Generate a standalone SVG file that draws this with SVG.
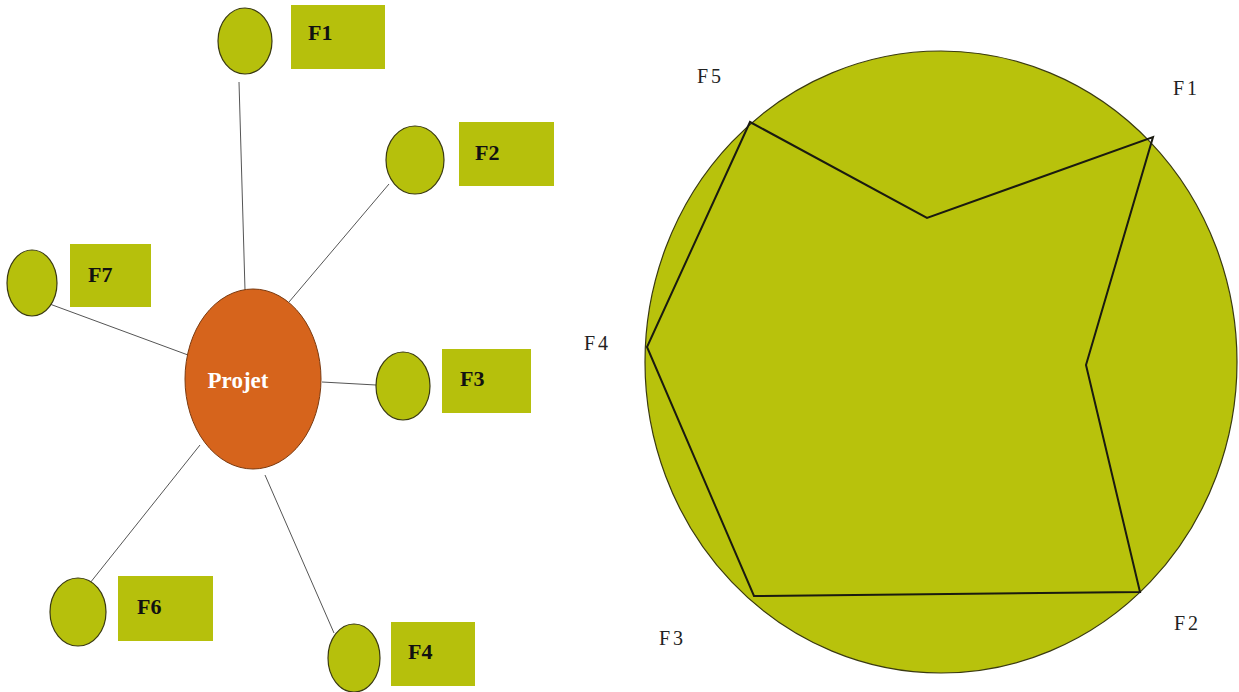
<svg xmlns="http://www.w3.org/2000/svg" width="1239" height="692" viewBox="0 0 1239 692">
<style>
.sat{fill:#b6c00c;stroke:#3a3a10;stroke-width:1.2}
.box{fill:#b6c00c}
.lbl{font-family:"Liberation Serif",serif;font-weight:bold;font-size:22px;fill:#111}
.con{stroke:#555;stroke-width:1;fill:none}
.rl{font-family:"Liberation Serif",serif;font-size:20px;fill:#222;letter-spacing:3px}
</style>
<rect width="1239" height="692" fill="#fff"/>
<g id="connectors">
<line class="con" x1="245" y1="290" x2="239" y2="82"/>
<line class="con" x1="289" y1="302" x2="389" y2="184"/>
<line class="con" x1="188" y1="355" x2="47" y2="303"/>
<line class="con" x1="322" y1="382" x2="376" y2="385"/>
<line class="con" x1="200" y1="445" x2="86" y2="588"/>
<line class="con" x1="265" y1="475" x2="334" y2="633"/>
</g>
<g id="projet">
<ellipse cx="253" cy="379" rx="68" ry="90" fill="#d6641c" stroke="#7a3a10" stroke-width="1"/>
<text x="238" y="388" text-anchor="middle" font-family="Liberation Serif,serif" font-weight="bold" font-size="23" fill="#fff">Projet</text>
</g>
<g id="f1">
<ellipse class="sat" cx="245" cy="41" rx="27" ry="33"/>
<rect class="box" x="291" y="5" width="94" height="64"/>
<text class="lbl" x="308" y="40">F1</text>
</g>
<g id="f2">
<ellipse class="sat" cx="415" cy="160" rx="29" ry="34"/>
<rect class="box" x="459" y="122" width="95" height="64"/>
<text class="lbl" x="475" y="160">F2</text>
</g>
<g id="f7">
<ellipse class="sat" cx="32" cy="283" rx="25" ry="33"/>
<rect class="box" x="70" y="244" width="81" height="63"/>
<text class="lbl" x="88" y="282">F7</text>
</g>
<g id="f3">
<ellipse class="sat" cx="403" cy="386" rx="27" ry="34"/>
<rect class="box" x="442" y="349" width="89" height="64"/>
<text class="lbl" x="460" y="386">F3</text>
</g>
<g id="f6">
<ellipse class="sat" cx="78" cy="612" rx="28" ry="34"/>
<rect class="box" x="118" y="576" width="95" height="65"/>
<text class="lbl" x="137" y="614">F6</text>
</g>
<g id="f4">
<ellipse class="sat" cx="354" cy="658" rx="26" ry="34"/>
<rect class="box" x="391" y="622" width="84" height="64"/>
<text class="lbl" x="408" y="659">F4</text>
</g>
<g id="radar">
<ellipse cx="941" cy="362" rx="296" ry="311" fill="#b8c20c" stroke="#3a3a10" stroke-width="1.2"/>
<polygon points="750,122 927,218 1153,137 1086,365 1140,592 754,596 647,347" fill="none" stroke="#1a1a10" stroke-width="2"/>
<text class="rl" x="697" y="83">F5</text>
<text class="rl" x="1173" y="95">F1</text>
<text class="rl" x="584" y="350">F4</text>
<text class="rl" x="659" y="645">F3</text>
<text class="rl" x="1174" y="630">F2</text>
</g>
</svg>
